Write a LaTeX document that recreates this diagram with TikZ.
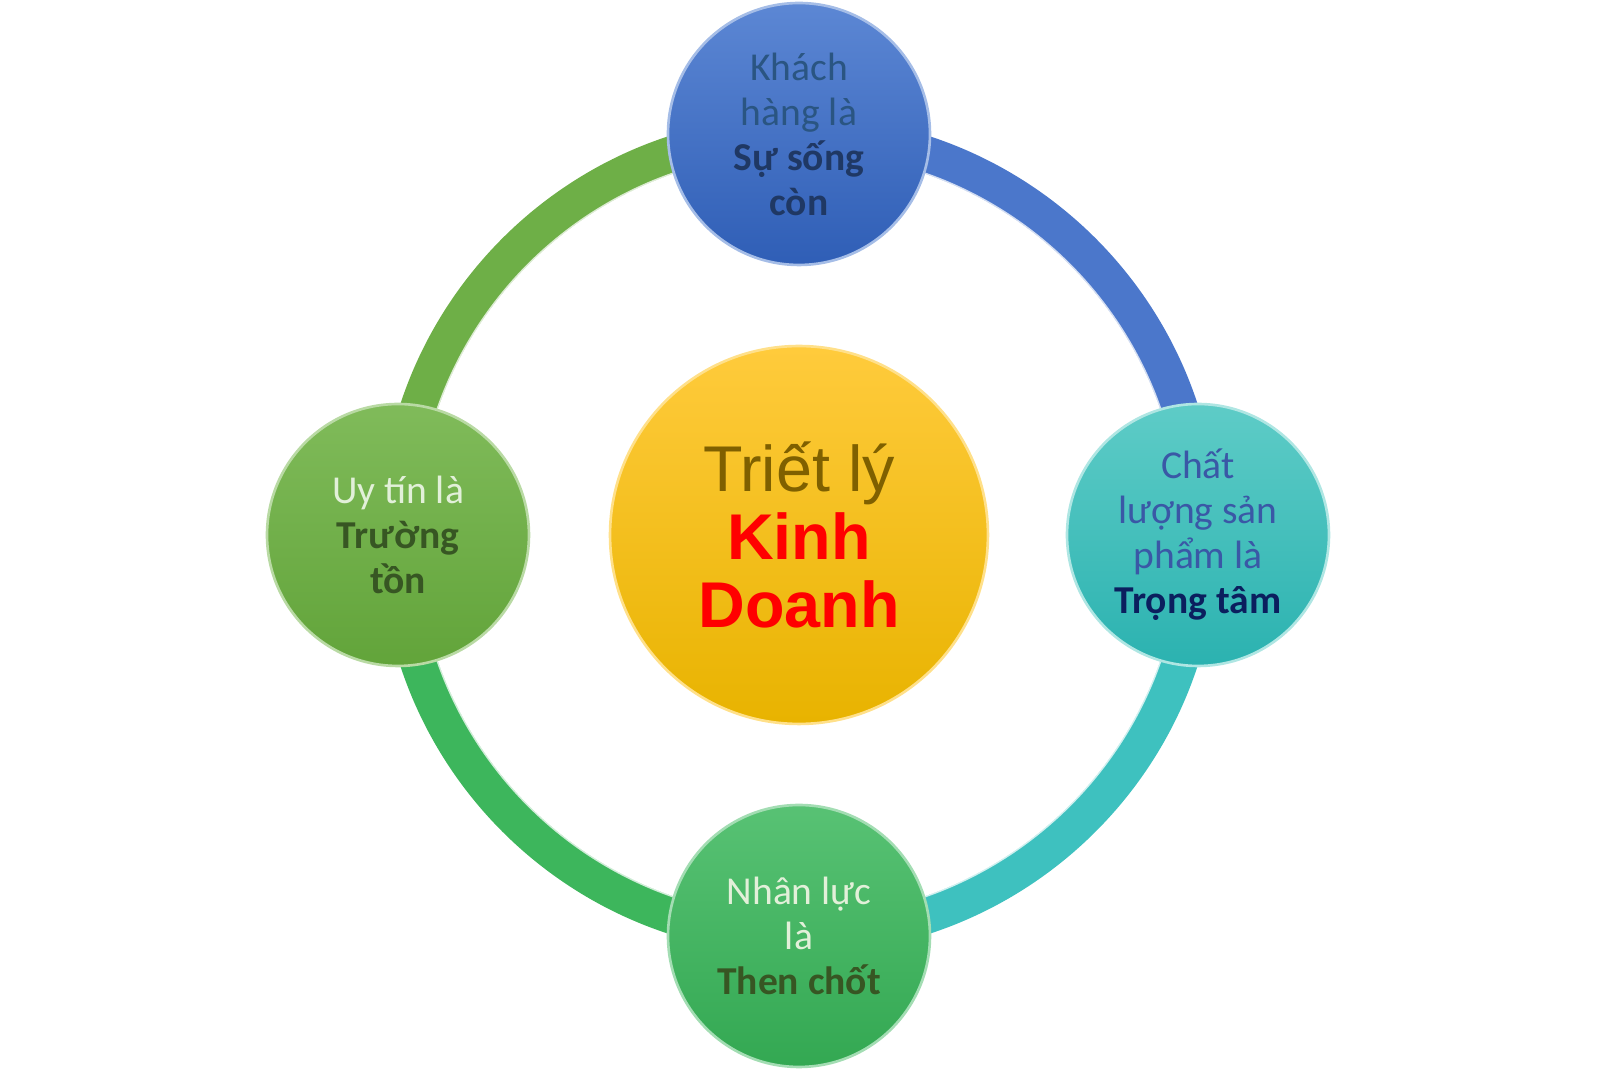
\documentclass[tikz,border=0pt]{standalone}
\usepackage{fontspec}
\setmainfont{Carlito}
\newfontfamily\arialfont{Liberation Sans}
\definecolor{blueTop}{HTML}{5C87D4}
\definecolor{blueBot}{HTML}{2F5EB6}
\definecolor{tealTop}{HTML}{5ECCC7}
\definecolor{tealBot}{HTML}{2BB2B0}
\definecolor{limeTop}{HTML}{80BB5A}
\definecolor{limeBot}{HTML}{62A43A}
\definecolor{greenTop}{HTML}{58C274}
\definecolor{greenBot}{HTML}{33A852}
\definecolor{goldTop}{HTML}{FFCB3C}
\definecolor{goldMid}{HTML}{FFC400}
\definecolor{goldBot}{HTML}{E8B300}
\definecolor{ringBlue}{HTML}{4B77CB}
\definecolor{ringTeal}{HTML}{3EC1BF}
\definecolor{ringGreen}{HTML}{3DB65C}
\definecolor{ringLime}{HTML}{6EAF47}
\definecolor{navyText}{HTML}{1F3864}
\definecolor{slateText}{HTML}{2A5582}
\definecolor{blueText}{HTML}{3A58A6}
\definecolor{deepNavy}{HTML}{0B1F5E}
\definecolor{paleText}{HTML}{E2F0D9}
\definecolor{darkGreen}{HTML}{375623}
\definecolor{brownText}{HTML}{7F6000}
\tikzset{
  sat/.style={circle, minimum size=5.24cm, inner sep=0pt, align=center, line width=1.5pt,
    font=\fontsize{22.5}{25.6}\selectfont},
  hub/.style={circle, minimum size=7.56cm, inner sep=0pt, align=center, line width=1.5pt,
    font=\arialfont\fontsize{36.8}{38.5}\selectfont},
  ring/.style={line width=0.74cm},
  shine/.style={white, line width=0.8pt, opacity=0.75}
}
\begin{document}
\begin{tikzpicture}[x=0.02cm,y=0.02cm]
        \useasboundingbox (-799,-535) rectangle (801,535);
        \coordinate (C) at (0,0);
        \coordinate (VT) at (0,401);
        \coordinate (VR) at (399,0);
        \coordinate (VB) at (0,-401);
        \coordinate (VL) at (-401,0);

        % ring
        \draw[ring, ringBlue] (VT) arc (90:0:401);
        \draw[ring, ringTeal] (0:401) arc (0:-90:401);
        \draw[ring, ringGreen] (VB) arc (270:180:401);
        \draw[ring, ringLime] (VL) arc (180:90:401);
        \draw[shine] (0,383) arc (90:-270:383);

        % centre
        \node[hub, top color=goldTop, middle color=goldMid, bottom color=goldBot, draw=goldTop!60!white] (triet) at (C)
            {\color{brownText}Triết lý\\\color{red}\bfseries Kinh\\\color{red}\bfseries Doanh};

        % satellites
        \node[sat, top color=blueTop, bottom color=blueBot, draw=blueTop!55!white] (khach) at (VT)
            {\color{slateText}Khách\\\color{slateText}hàng là\\\color{navyText}\bfseries Sự sống\\\color{navyText}\bfseries còn};
        \node[sat, top color=tealTop, bottom color=tealBot, draw=tealTop!50!white] (chat) at (VR)
            {\color{blueText}Chất\\\color{blueText}lượng sản\\\color{blueText}phẩm là\\\color{deepNavy}\bfseries Trọng tâm};
        \node[sat, top color=greenTop, bottom color=greenBot, draw=greenTop!55!white] (nhan) at (VB)
            {\color{paleText}Nhân lực\\\color{paleText}là\\\color{darkGreen}\bfseries Then chốt};
        \node[sat, top color=limeTop, bottom color=limeBot, draw=limeTop!55!white] (uytin) at (VL)
            {\color{paleText}Uy tín là\\\color{darkGreen}\bfseries Trường\\\color{darkGreen}\bfseries tồn};
    \end{tikzpicture}
\end{document}
